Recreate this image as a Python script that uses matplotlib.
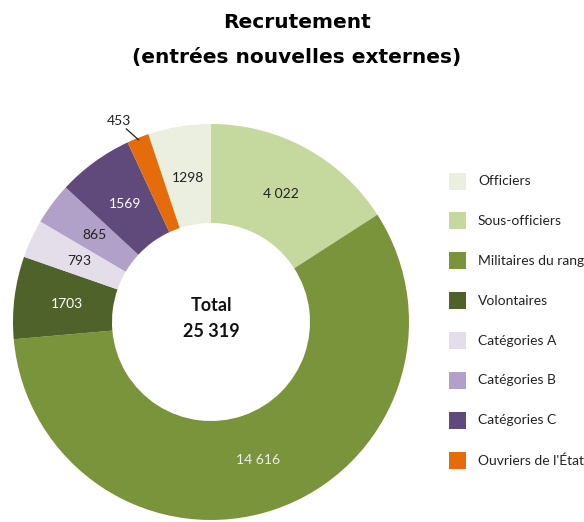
import numpy as np
import matplotlib.pyplot as plt
from matplotlib.patches import Rectangle

plt.rcParams['font.family'] = ['Lato', 'DejaVu Sans']

categories = ['Officiers', 'Sous-officiers', 'Militaires du rang', 'Volontaires',
              'Catégories A', 'Catégories B', 'Catégories C', "Ouvriers de l'État"]
values = [1298, 4022, 14616, 1703, 793, 865, 1569, 453]
value_labels = ['1298', '4 022', '14 616', '1703', '793', '865', '1569', '453']
colors = ['#EAEFDF', '#C5D89E', '#7A943B', '#4F6229',
          '#E4DEEA', '#B1A0C7', '#604A7B', '#E46C0A']
label_colors = ['#222222', '#222222', '#EEEEEE', '#FFFFFF',
                '#222222', '#222222', '#FFFFFF', '#222222']
total_text = '25 319'

W, H = 584, 522
fig = plt.figure(figsize=(W / 100, H / 100), dpi=100)

# donut axes: centre (211, 322) px, radius 198 px
cx, cy, r = 211, 322, 198
ax = fig.add_axes([(cx - r) / W, (H - cy - r) / H, 2 * r / W, 2 * r / H])
ax.set_aspect('equal')
ax.axis('off')

total = sum(values)
start = 90 + values[0] / total * 360
wedges, _ = ax.pie(values, colors=colors, startangle=start, counterclock=False,
                   radius=1, wedgeprops=dict(width=0.5, linewidth=0),
                   center=(0, 0), frame=False)
ax.set_xlim(-1, 1)
ax.set_ylim(-1, 1)

for w, lab, c in zip(wedges, value_labels, label_colors):
    mid = np.deg2rad((w.theta1 + w.theta2) / 2)
    if lab == '453':
        # small slice: label outside with a leader line
        x0, y0 = 0.99 * np.cos(mid), 0.99 * np.sin(mid)
        x1, y1 = 1.065 * np.cos(mid + 0.035), 1.065 * np.sin(mid + 0.035)
        ax.plot([x0, x1], [y0, y1], color='#222222', lw=0.9, clip_on=False)
        ax.text(x1 - 0.035, y1 + 0.04, lab, ha='center', va='center',
                fontsize=10, color='#222222', clip_on=False)
    else:
        rr = 0.735
        ax.text(rr * np.cos(mid), rr * np.sin(mid), lab, ha='center', va='center',
                fontsize=10, color=c)

ax.text(0, 0.085, 'Total', ha='center', va='center', fontsize=13,
        fontweight='bold', color='#111111')
ax.text(0, -0.05, total_text, ha='center', va='center', fontsize=13,
        fontweight='bold', color='#111111')

# title
fig.text(297 / W, 1 - 22 / H, 'Recrutement', ha='center', va='center',
         fontsize=14.5, fontweight='bold', family=['DejaVu Sans'])
fig.text(297 / W, 1 - 57 / H, '(entrées nouvelles externes)', ha='center',
         va='center', fontsize=14.5, fontweight='bold', family=['DejaVu Sans'])

# legend
for i, (name, col) in enumerate(zip(categories, colors)):
    yc = 181 + i * 39.9
    fig.patches.append(Rectangle((449 / W, 1 - (yc + 8.5) / H), 17 / W, 17 / H,
                                 transform=fig.transFigure, facecolor=col,
                                 edgecolor='none'))
    fig.text(478 / W, 1 - yc / H, name, ha='left', va='center', fontsize=10,
             color='#222222')

fig.savefig('out.png', dpi=100)
